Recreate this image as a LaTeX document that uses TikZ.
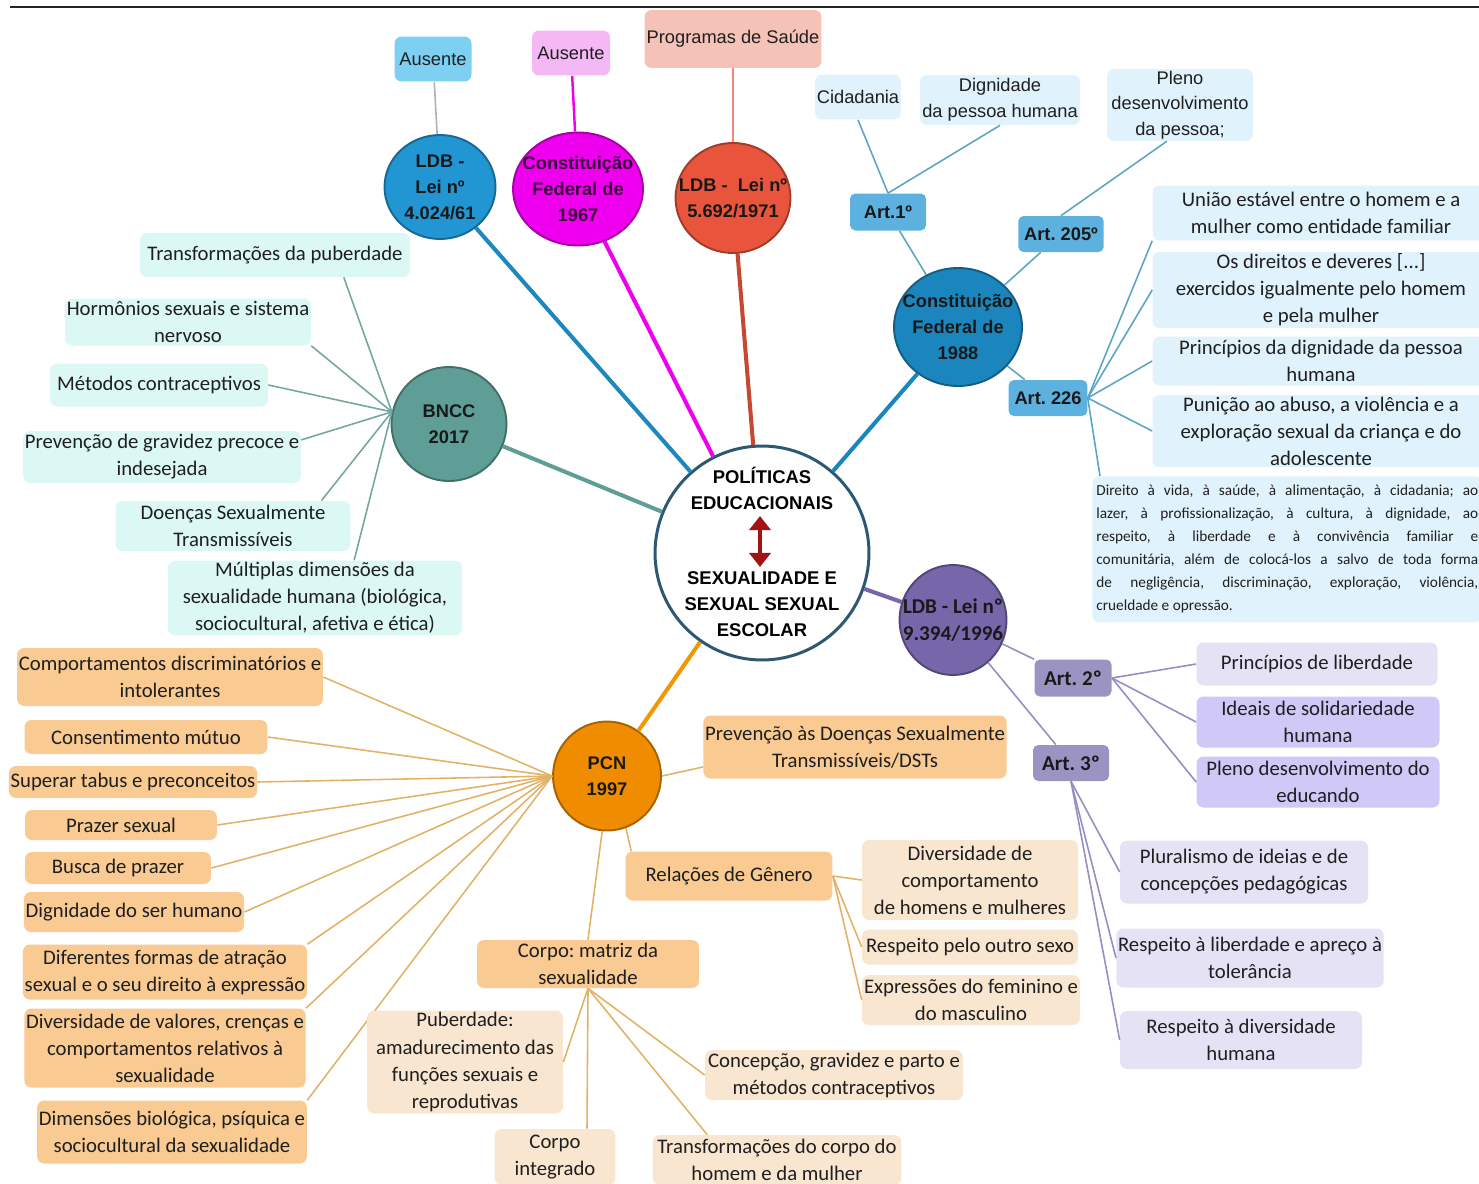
\documentclass[tikz,border=0pt]{standalone}
\usepackage{fontspec}
\setmainfont{Carlito}
\newfontfamily\arialf{Liberation Sans}
\usetikzlibrary{positioning,shapes.geometric,arrows.meta}
\frenchspacing

% colours
\definecolor{hubline}{HTML}{2D5872}
\definecolor{arrred}{HTML}{A01414}
\definecolor{ldbablue}{HTML}{2196D3}
\definecolor{cfmag}{HTML}{EE00EE}
\definecolor{ldbbred}{HTML}{E8553C}
\definecolor{cfblue}{HTML}{1B86BD}
\definecolor{bnccteal}{HTML}{5F9E96}
\definecolor{ldbcpurple}{HTML}{7766AA}
\definecolor{pcnorange}{HTML}{F08C00}
\definecolor{ausblue}{HTML}{7DD0F2}
\definecolor{auspink}{HTML}{F4B8F4}
\definecolor{progsalmon}{HTML}{F5C2B8}
\definecolor{cflight}{HTML}{E0F2FB}
\definecolor{artblue}{HTML}{5CB1DF}
\definecolor{bnccl}{HTML}{DCF8F4}
\definecolor{pcnl}{HTML}{F9CA92}
\definecolor{pcnxl}{HTML}{F8E6D0}
\definecolor{artpurple}{HTML}{9B93C2}
\definecolor{lavl}{HTML}{E6E2F6}
\definecolor{lavm}{HTML}{D0C8F6}
\definecolor{ausline}{HTML}{A8B4B4}
\definecolor{cfline}{HTML}{5AA6C4}
\definecolor{bnccline}{HTML}{73A7A0}
\definecolor{pcnline}{HTML}{E2B266}
\definecolor{lavline}{HTML}{958DC4}

\newcommand{\jline}[1]{\makebox[7.64cm][s]{#1}}

\tikzset{
  hub/.style={circle, draw=hubline, line width=1.7pt, fill=white, minimum size=4.28cm},
  hubtext/.style={align=center, inner sep=0pt, font=\arialf\bfseries\fontsize{10.5}{14.8}\selectfont},
  twoway/.style={draw=arrred, line width=2.4pt, {Triangle[width=12pt,length=8pt]}-{Triangle[width=12pt,length=8pt]}},
  law/.style={ellipse, fill=#1, draw=#1!70!black, line width=1.1pt, inner sep=-12pt, align=center,
    text=black!90, font=\arialf\bfseries\fontsize{10.4}{14.8}\selectfont},
  leaf/.style={fill=#1, rounded corners=4pt, align=center, inner sep=1pt, text=black!88,
    font=\fontsize{11.8}{15.4}\selectfont},
  aleaf/.style={leaf=#1, font=\arialf\fontsize{10.4}{14.6}\selectfont},
  art/.style={fill=#1, rounded corners=3pt, align=center, text=black!90,
    font=\arialf\bfseries\fontsize{10.4}{12}\selectfont},
  cart/.style={art=#1, font=\bfseries\fontsize{12}{14}\selectfont},
  branch/.style={draw=#1, line width=2.3pt},
  twig/.style={draw=#1, line width=0.9pt},
}

\begin{document}
\begin{tikzpicture}[x=0.02cm, y=-0.02cm]
  \useasboundingbox (0,0) rectangle (1479,1183);
  \draw[line width=1pt, black!85] (10,7) -- (1479,7);

  % centre
  \node[hub] (hub) at (762,553) {};
  \node[hubtext] (pol) at (762,488) {POLÍTICAS\\EDUCACIONAIS};
  \node[hubtext] (sex) at (762,604) {SEXUALIDADE E\\SEXUAL SEXUAL\\ESCOLAR};
  \coordinate (arrtop) at (760,516);
  \coordinate (arrbot) at (760,567);
  \draw[twoway] (arrtop) -- (arrbot);

  % laws
  \node[law=ldbablue, minimum width=2.22cm, minimum height=2.08cm] (ldba) at (440,187) {LDB -\\Lei nº\\4.024/61};
  \node[law=cfmag, minimum width=2.6cm, minimum height=2.26cm, text=cfmag!25!black] (cf67) at (578,189) {Constituição\\Federal de\\1967};
  \node[law=ldbbred, minimum width=2.3cm, minimum height=2.2cm] (ldbb) at (733,198) {LDB -\ \ Lei nº\\5.692/1971};
  \node[law=cfblue, minimum width=2.56cm, minimum height=2.36cm] (cf88) at (958,327) {Constituição\\Federal de\\1988};
  \node[law=bnccteal, minimum width=2.3cm, minimum height=2.28cm] (bncc) at (449,424) {BNCC\\2017};
  \node[law=ldbcpurple, minimum width=2.14cm, minimum height=2.2cm, font=\bfseries\fontsize{12}{15}\selectfont] (ldbc) at (953,620) {LDB - Lei nº\\9.394/1996};
  \node[law=pcnorange, minimum width=2.16cm, minimum height=2.18cm] (pcn) at (607,776) {PCN\\1997};

  \draw[branch=ldbablue!90!black] (hub) -- (ldba);
  \draw[branch=cfmag] (hub) -- (cf67);
  \draw[branch=ldbbred!85!black] (hub) -- (ldbb);
  \draw[branch=cfblue] (hub) -- (cf88);
  \draw[branch=bnccteal] (hub) -- (bncc);
  \draw[branch=ldbcpurple] (hub) -- (ldbc);
  \draw[branch=pcnorange!90!yellow] (hub) -- (pcn);

  % top
  \node[aleaf=ausblue, minimum width=1.54cm, minimum height=0.9cm] (ausa) at (433,59) {Ausente};
  \node[aleaf=auspink, minimum width=1.56cm, minimum height=0.9cm] (ausb) at (571,53) {Ausente};
  \node[aleaf=progsalmon, minimum width=3.54cm, minimum height=1.16cm] (prog) at (733,39) {Programas de Saúde};
  \draw[twig=ausline] (ausa) -- (ldba);
  \draw[twig=cfmag, line width=1.4pt] (ausb) -- (cf67);
  \draw[twig=ldbbred!70!white, line width=1.4pt] (prog) -- (ldbb);

  % CF 1988
  \node[art=artblue, minimum width=1.52cm, minimum height=0.74cm] (art1) at (888,212) {Art.1º};
  \node[art=artblue, minimum width=1.54cm, minimum height=0.72cm] (art205) at (1061,234) {Art. 205º};
  \node[art=artblue, minimum width=1.52cm, minimum height=0.72cm] (art226) at (1048,398) {Art. 226};
  \node[aleaf=cflight, minimum width=1.66cm, minimum height=0.9cm] (cid) at (858,97) {Cidadania};
  \node[aleaf=cflight, minimum width=3.2cm, minimum height=1.0cm] (dig) at (1000,100) {Dignidade\\da pessoa humana};
  \node[aleaf=cflight, minimum width=2.92cm, minimum height=1.4cm] (pleno) at (1180,105) {Pleno\\desenvolvimento\\da pessoa;};
  \node[leaf=cflight, minimum width=6.74cm, minimum height=1.1cm] (uniao) at (1321,213) {União estável entre o homem e a\\mulher como entidade familiar};
  \node[leaf=cflight, minimum width=6.74cm, minimum height=1.48cm] (dirs) at (1321,290) {Os direitos e deveres [...]\\exercidos igualmente pelo homem\\e pela mulher};
  \node[leaf=cflight, minimum width=6.74cm, minimum height=0.98cm] (prin) at (1321,361) {Princípios da dignidade da pessoa\\humana};
  \node[leaf=cflight, minimum width=6.74cm, minimum height=1.44cm] (puni) at (1321,431) {Punição ao abuso, a violência e a\\exploração sexual da criança e do\\adolescente};
  \node[leaf=cflight, anchor=north west, align=left, inner xsep=0.08cm, inner ysep=0.13cm, minimum height=2.92cm,
    font=\fontsize{8.7}{13.1}\selectfont] (para) at (1092,476)
    {\jline{Direito à vida, à saúde, à alimentação, à cidadania; ao}\\
     \jline{lazer, à profissionalização, à cultura, à dignidade, ao}\\
     \jline{respeito, à liberdade e à convivência familiar e}\\
     \jline{comunitária, além de colocá-los a salvo de toda forma}\\
     \jline{de negligência, discriminação, exploração, violência,}\\
     crueldade e opressão.};

  \draw[twig=cfline] (cf88) -- (art1);
  \draw[twig=cfline] (cf88) -- (art205);
  \draw[twig=cfline] (cf88) -- (art226);
  \draw[twig=cfline] (art1.north) -- (cid.south);
  \draw[twig=cfline] (art1.north) -- (dig.south);
  \draw[twig=cfline] (art205.north) -- (pleno.250);
  \draw[twig=cfline] (art226.east) -- (uniao.south west);
  \draw[twig=cfline] (art226.east) -- (dirs.west);
  \draw[twig=cfline] (art226.east) -- (prin.west);
  \draw[twig=cfline] (art226.east) -- (puni.west);
  \draw[twig=cfline] (art226.east) -- ([xshift=0.16cm]para.north west);

  % BNCC
  \node[leaf=bnccl, minimum width=5.4cm, minimum height=0.88cm] (tpub) at (275,255) {Transformações da puberdade};
  \node[leaf=bnccl, minimum width=4.74cm, minimum height=0.94cm] (horm) at (188,322) {Hormônios sexuais e sistema\\nervoso};
  \node[leaf=bnccl, minimum width=4.36cm, minimum height=0.86cm] (metc) at (159,385) {Métodos contraceptivos};
  \node[leaf=bnccl, minimum width=5.5cm, minimum height=1.04cm] (prev) at (162,457) {Prevenção de gravidez precoce e\\indesejada};
  \node[leaf=bnccl, minimum width=4.7cm, minimum height=1.0cm] (dst) at (233,526) {Doenças Sexualmente\\Transmissíveis};
  \node[leaf=bnccl, minimum width=5.88cm, minimum height=1.46cm] (mult) at (315,598) {Múltiplas dimensões da\\sexualidade humana (biológica,\\sociocultural, afetiva e ética)};
  \draw[twig=bnccline] (bncc.168) -- (tpub.-18);
  \draw[twig=bnccline] (bncc.168) -- (horm.south east);
  \draw[twig=bnccline] (bncc.168) -- (metc.east);
  \draw[twig=bnccline] (bncc.168) -- (prev.7);
  \draw[twig=bnccline] (bncc.168) -- (dst.16);
  \draw[twig=bnccline] (bncc.168) -- (mult.44);

  % PCN
  \node[leaf=pcnl, minimum width=6.0cm, minimum height=1.16cm] (comp) at (170,677) {Comportamentos discriminatórios e\\intolerantes};
  \node[leaf=pcnl, minimum width=4.86cm, minimum height=0.68cm] (cons) at (146,737) {Consentimento mútuo};
  \node[leaf=pcnl, minimum width=4.86cm, minimum height=0.64cm] (supe) at (133,782) {Superar tabus e preconceitos};
  \node[leaf=pcnl, minimum width=3.84cm, minimum height=0.6cm] (praz) at (121,825) {Prazer sexual};
  \node[leaf=pcnl, minimum width=3.72cm, minimum height=0.64cm] (busc) at (118,868) {Busca de prazer};
  \node[leaf=pcnl, minimum width=4.36cm, minimum height=0.8cm] (dign) at (134,912) {Dignidade do ser humano};
  \node[leaf=pcnl, minimum width=5.62cm, minimum height=1.1cm] (dife) at (165,972) {Diferentes formas de atração\\sexual e o seu direito à expressão};
  \node[leaf=pcnl, minimum width=5.62cm, minimum height=1.58cm] (divv) at (165,1048) {Diversidade de valores, crenças e\\comportamentos relativos à\\sexualidade};
  \node[leaf=pcnl, minimum width=5.36cm, minimum height=1.26cm] (dime) at (172,1132) {Dimensões biológica, psíquica e\\sociocultural da sexualidade};
  \foreach \n in {comp,cons,supe,praz,busc,dign}
    \draw[twig=pcnline] (pcn.west) -- (\n.east);
  \foreach \n in {dife,divv,dime}
    \draw[twig=pcnline] (pcn.west) -- (\n.north east);

  \node[leaf=pcnl, minimum width=5.88cm, minimum height=1.26cm] (prevd) at (855,747) {Prevenção às Doenças Sexualmente\\Transmissíveis/DSTs};
  \node[leaf=pcnl, minimum width=4.14cm, minimum height=0.98cm] (rel) at (729,876) {Relações de Gênero};
  \node[leaf=pcnl, minimum width=4.44cm, minimum height=0.96cm] (corpo) at (588,964) {Corpo: matriz da\\sexualidade};
  \draw[twig=pcnline] (pcn.east) -- ([yshift=-0.4cm]prevd.west);
  \draw[twig=pcnline] (pcn.-70) -- ([xshift=0.12cm]rel.north west);
  \draw[twig=pcnline] (pcn.-95) -- (corpo.north);

  \node[leaf=pcnxl, minimum width=4.32cm, minimum height=1.6cm] (divc) at (970,880) {Diversidade de\\comportamento\\de homens e mulheres};
  \node[leaf=pcnxl, minimum width=4.32cm, minimum height=0.7cm] (resp) at (970,947) {Respeito pelo outro sexo};
  \node[leaf=pcnxl, minimum width=4.36cm, minimum height=1.0cm] (expr) at (971,1000) {Expressões do feminino e\\do masculino};
  \draw[twig=pcnline] (rel.east) -- (divc.west);
  \draw[twig=pcnline] (rel.east) -- (resp.west);
  \draw[twig=pcnline] (rel.east) -- (expr.west);

  \node[leaf=pcnxl, minimum width=3.92cm, minimum height=2.06cm] (pub) at (465,1062) {Puberdade:\\amadurecimento das\\funções sexuais e\\reprodutivas};
  \node[leaf=pcnxl, minimum width=2.42cm, minimum height=1.12cm] (cint) at (555,1157) {Corpo\\integrado};
  \node[leaf=pcnxl, minimum width=4.98cm, minimum height=1.0cm] (trans) at (777,1160) {Transformações do corpo do\\homem e da mulher};
  \node[leaf=pcnxl, minimum width=5.16cm, minimum height=1.0cm] (conc) at (834,1075) {Concepção, gravidez e parto e\\métodos contraceptivos};
  \draw[twig=pcnline] (corpo.south) -- (pub.east);
  \draw[twig=pcnline] (corpo.south) -- ([xshift=0.64cm]cint.north);
  \draw[twig=pcnline] (corpo.south) -- ([xshift=1.1cm]trans.north west);
  \draw[twig=pcnline] (corpo.south) -- (conc.west);

  % LDB 9.394
  \node[cart=artpurple, minimum width=1.54cm, minimum height=0.74cm] (art2) at (1073,678) {Art. 2º};
  \node[cart=artpurple, minimum width=1.52cm, minimum height=0.72cm] (art3) at (1071,763) {Art. 3º};
  \node[leaf=lavl, minimum width=4.82cm, minimum height=0.86cm] (prin2) at (1317,664) {Princípios de liberdade};
  \node[leaf=lavm, minimum width=4.86cm, minimum height=1.02cm] (idea) at (1318,722) {Ideais de solidariedade\\humana};
  \node[leaf=lavm, minimum width=4.86cm, minimum height=1.02cm] (plen2) at (1318,782) {Pleno desenvolvimento do\\educando};
  \node[leaf=lavl, minimum width=4.96cm, minimum height=1.26cm] (plur) at (1244,872) {Pluralismo de ideias e de\\concepções pedagógicas};
  \node[leaf=lavl, minimum width=5.28cm, minimum height=1.18cm] (resl) at (1250,958) {Respeito à liberdade e apreço à\\tolerância};
  \node[leaf=lavl, minimum width=4.84cm, minimum height=1.16cm] (resd) at (1241,1040) {Respeito à diversidade\\humana};
  \draw[twig=lavline] (ldbc) -- (art2);
  \draw[twig=lavline] (ldbc) -- (art3);
  \foreach \n in {prin2,idea,plen2}
    \draw[twig=lavline] (art2.east) -- (\n.west);
  \foreach \n in {plur,resl,resd}
    \draw[twig=lavline] (art3.south) -- (\n.west);
\end{tikzpicture}
\end{document}
